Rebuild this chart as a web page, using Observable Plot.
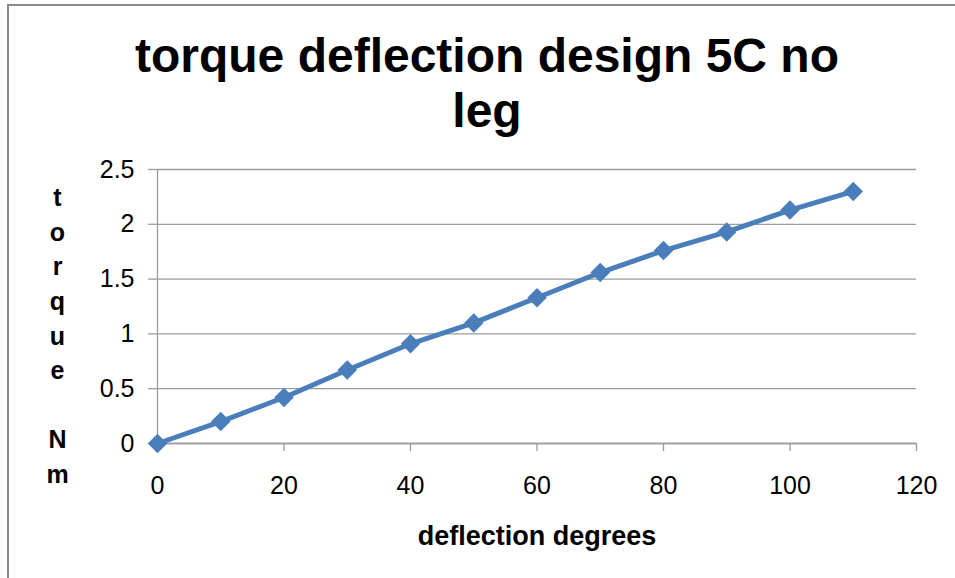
<!DOCTYPE html>
<html>
<head>
<meta charset="utf-8">
<script src="https://cdn.jsdelivr.net/npm/d3@7"></script>
<script src="https://cdn.jsdelivr.net/npm/@observablehq/plot@0.6"></script>
<style>
  html, body { margin: 0; padding: 0; background: #fff; }
  #page { position: relative; width: 955px; height: 578px; overflow: hidden; background: #fff; }
  #frame {
    position: absolute; left: 7px; top: 4px; width: 1000px; height: 1000px;
    border-left: 2px solid #8c8c8c; border-top: 2px solid #8c8c8c; box-sizing: border-box;
  }
  #head { position: relative; height: 140px; }
  #title {
    position: absolute; left: 7px; top: 28px; width: 960px; text-align: center;
    font: bold 48px "Liberation Sans", Arial, sans-serif; line-height: 55px; color: #000;
  }
  #chart { position: relative; }
</style>
</head>
<body>
<div id="page">
  <div id="frame"></div>
  <div id="head"><div id="title">torque deflection design 5C no<br>leg</div></div>
  <div id="chart"></div>
</div>
<script>
// Deflection angle (degrees) against measured torque (N·m)
const deflection = [0, 10, 20, 30, 40, 50, 60, 70, 80, 90, 100, 110];
const torque = [0, 0.20, 0.42, 0.67, 0.91, 1.10, 1.33, 1.56, 1.76, 1.93, 2.13, 2.30];

// Axis ticks and titles
const xTicks = [0, 20, 40, 60, 80, 100, 120];
const yTicks = [0, 0.5, 1, 1.5, 2, 2.5];
const xTitle = "deflection degrees";
const yTitle = "t\no\nr\nq\nu\ne\n\u00a0\nN\nm";

const data = deflection.map((d, i) => ({deflection: d, torque: torque[i]}));

const blue = "#4a7ebb";
const gray = "#9c9c9c";

const chart = Plot.plot({
  width: 955,
  height: 438,
  marginLeft: 157,
  marginRight: 39,
  marginTop: 29,
  marginBottom: 135,
  style: {fontFamily: "'Liberation Sans', Arial, sans-serif", fontSize: "25px", color: "#000", background: "transparent", overflow: "visible"},
  x: {domain: [0, 120]},
  y: {domain: [0, 2.5]},
  marks: [
    Plot.gridY(yTicks, {stroke: gray, strokeOpacity: 1, strokeWidth: 1.3}),
    Plot.ruleX([0], {stroke: gray, strokeWidth: 1.3}),
    Plot.ruleY([0], {stroke: gray, strokeWidth: 1.3}),
    Plot.axisY(yTicks, {tickSize: 9, tickPadding: 14, stroke: gray, strokeWidth: 1.3, fill: "#000", fontSize: 25, label: null, tickFormat: d => String(d)}),
    Plot.axisX(xTicks, {tickSize: 8, tickPadding: 25, stroke: gray, strokeWidth: 1.3, fill: "#000", fontSize: 25, label: null, tickFormat: d => String(d)}),
    Plot.line(data, {x: "deflection", y: "torque", stroke: blue, strokeWidth: 5}),
    Plot.dot(data, {x: "deflection", y: "torque", symbol: "diamond2", r: 8.8, fill: blue, stroke: "none"}),
    Plot.text([yTitle], {frameAnchor: "top-left", textAnchor: "middle", lineAnchor: "top", dx: -100, dy: 12, lineHeight: 1.385, fontWeight: "bold", fontSize: 25, fill: "#000"}),
    Plot.text([xTitle], {frameAnchor: "bottom", lineAnchor: "bottom", dy: 101, fontWeight: "bold", fontSize: 27, fill: "#000"})
  ]
});
document.getElementById("chart").appendChild(chart);
</script>
</body>
</html>
